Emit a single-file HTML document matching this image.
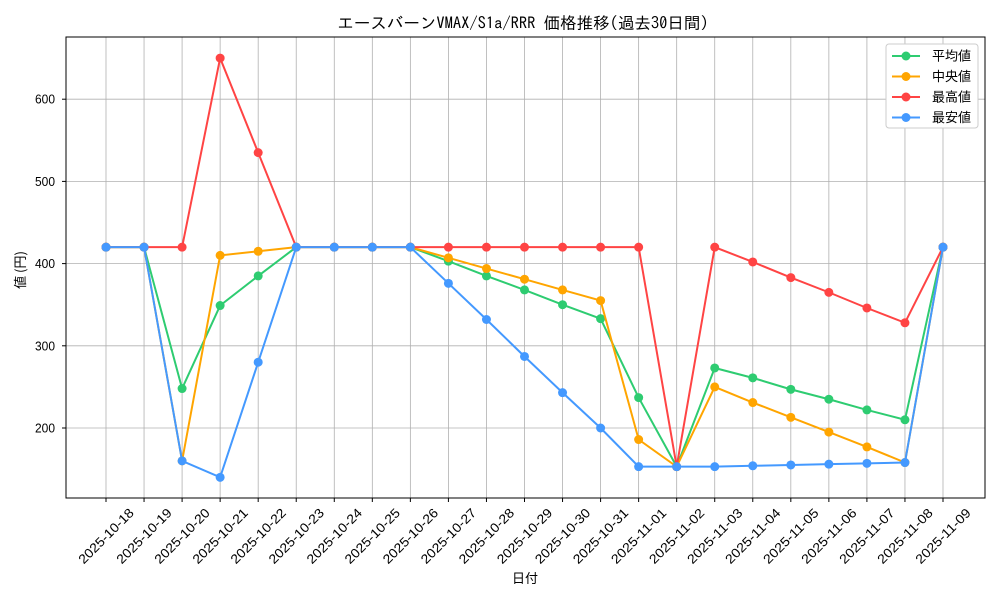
<!DOCTYPE html>
<html><head><meta charset="utf-8"><style>
body{margin:0;background:#fff;}
text{font-family:"IPAGothic","Noto Sans CJK JP",monospace;fill:#000;}
.sans{font-family:"Liberation Sans","Noto Sans CJK JP",sans-serif;}
.cjk{font-family:"Noto Sans CJK JP","IPAGothic",sans-serif;}
</style></head><body>
<svg id="chart" width="1000" height="600" xmlns="http://www.w3.org/2000/svg">
<rect width="1000" height="600" fill="#fff"/>
<text x="523" y="29" font-size="16.5" text-anchor="middle">エースバーンVMAX/S1a/RRR 価格推移(過去30日間)</text>
<g id="grid"></g><g id="series"></g><g id="axes"></g>
<text class="cjk" x="525" y="583" font-size="13" text-anchor="middle">日付</text>
<text class="cjk" x="25" y="270" font-size="13" text-anchor="middle" transform="rotate(-90 25 270)">値 (円)</text>
<g id="legend"></g>
</svg>
<script>
const dates=["2025-10-18","2025-10-19","2025-10-20","2025-10-21","2025-10-22","2025-10-23","2025-10-24","2025-10-25","2025-10-26","2025-10-27","2025-10-28","2025-10-29","2025-10-30","2025-10-31","2025-11-01","2025-11-02","2025-11-03","2025-11-04","2025-11-05","2025-11-06","2025-11-07","2025-11-08","2025-11-09"];
const meanVals=[420,420,248,349,385,420,420,420,420,403,385,368,350,333,237,153,273,261,247,235,222,210,420];
const medianVals=[420,420,160,410,415,420,420,420,420,407,394,381,368,355,186,153,250,231,213,195,177,158,420];
const maxVals=[420,420,420,650,535,420,420,420,420,420,420,420,420,420,420,153,420,402,383,365,346,328,420];
const minVals=[420,420,160,140,280,420,420,420,420,376,332,287,243,200,153,153,153,154,155,156,157,158,420];
const yTicks=[200,300,400,500,600];
const seriesNames=["平均値","中央値","最高値","最安値"];
const L=66,R=985,T=37,B=498;
const x=i=>106+i*(943-106)/(dates.length-1);
const y=v=>428-(v-200)*0.822;
const NS="http://www.w3.org/2000/svg";
function mk(tag,attrs,parent){const e=document.createElementNS(NS,tag);for(const k in attrs)e.setAttribute(k,attrs[k]);parent.appendChild(e);return e;}
const grid=document.getElementById('grid'),axes=document.getElementById('axes'),ser=document.getElementById('series'),leg=document.getElementById('legend');
dates.forEach((d,i)=>{
 const g=mk('line',{x1:x(i),x2:x(i),y1:T,y2:B,stroke:'#b0b0b0','stroke-width':0.8},grid);
 
 
 const t=mk('line',{x1:x(i),x2:x(i),y1:B,y2:B+4,stroke:'#000'},axes);
 
 
 const cx=x(i),cy=536;
 const tx=mk('text',{class:'sans',x:cx,y:cy+4.5,'font-size':13,'text-anchor':'middle',textLength:72,lengthAdjust:'spacingAndGlyphs',transform:`rotate(-45 ${cx} ${cy})`},axes);
 tx.textContent=d;
 
 
});
yTicks.forEach(v=>{
 const g=mk('line',{x1:L,x2:R,y1:y(v),y2:y(v),stroke:'#b0b0b0','stroke-width':0.8},grid);
 
 
 const t=mk('line',{x1:L-4,x2:L,y1:y(v),y2:y(v),stroke:'#000'},axes);
 
 
 const tx=mk('text',{class:'sans',x:55,y:y(v)+4.5,'font-size':13,'text-anchor':'end',textLength:20,lengthAdjust:'spacingAndGlyphs'},axes);
 tx.textContent=v;
 
 
});
const frame=mk('rect',{x:L,y:T,width:R-L,height:B-T,fill:'none',stroke:'#000','stroke-width':1},axes);


const all=[meanVals,medianVals,maxVals,minVals];
const colors=['#2ecc71','#ffa500','#ff4444','#4499ff'];
all.forEach((vals,s)=>{
 const g=mk('g',{},ser);
 
 
 mk('polyline',{points:vals.map((v,i)=>x(i)+','+y(v)).join(' '),fill:'none',stroke:colors[s],'stroke-width':2},g);
 vals.forEach((v,i)=>{
  const c=mk('circle',{cx:x(i),cy:y(v),r:4.5,fill:colors[s]},g);
  
  
 });
});
mk('rect',{x:886,y:44,width:92,height:84,rx:3,fill:'#fff',stroke:'#ccc'},leg);
seriesNames.forEach((n,s)=>{
 const yy=56+s*20.5;
 const e=mk('g',{},leg);
 
 
 mk('line',{x1:892,x2:920,y1:yy,y2:yy,stroke:colors[s],'stroke-width':2},e);
 mk('circle',{cx:906,cy:yy,r:4.5,fill:colors[s]},e);
 const t=mk('text',{class:'cjk',x:932,y:yy+4.5,'font-size':13},e);
 t.textContent=n;
});
</script>
</body></html>
